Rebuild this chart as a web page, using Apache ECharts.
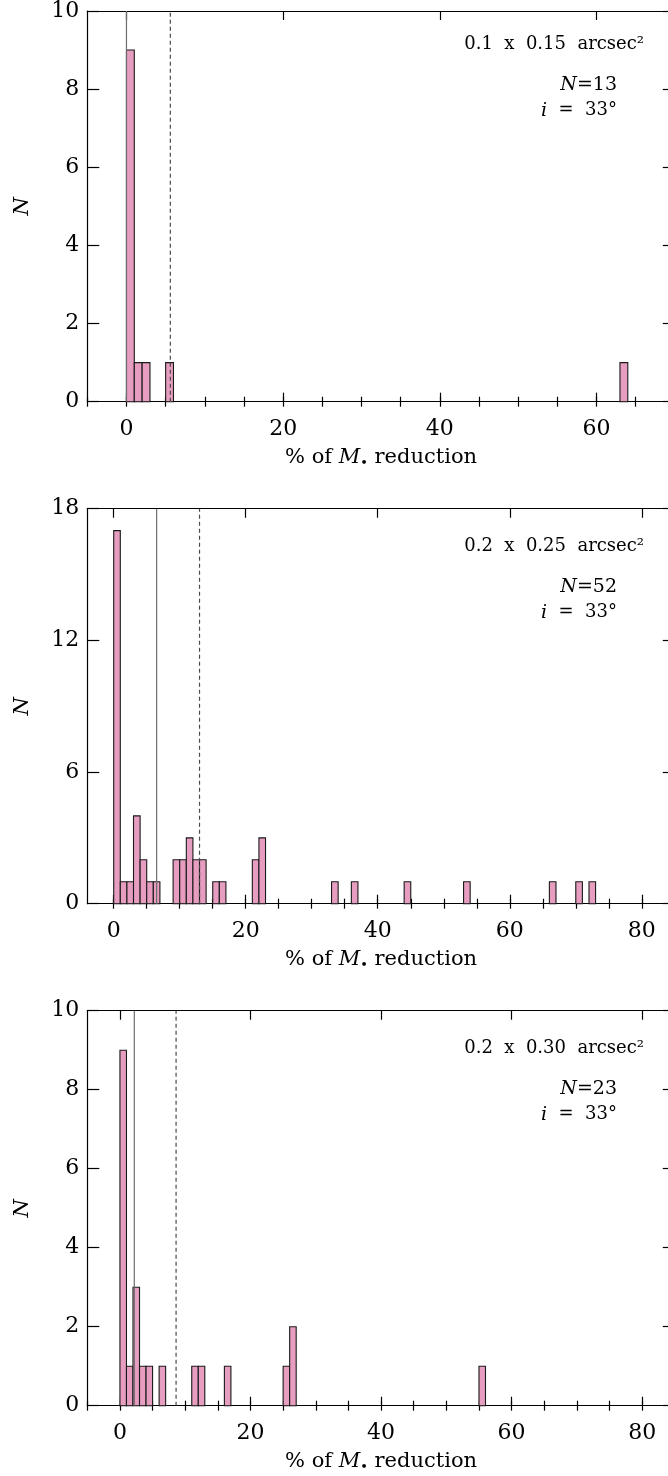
<!DOCTYPE html>
<html>
<head>
<meta charset="utf-8">
<script src="https://cdn.jsdelivr.net/npm/echarts@6/dist/echarts.min.js"></script>
<style>
  html, body { margin: 0; padding: 0; background: #fff; overflow: hidden; }
  #chart { width: 680px; height: 1476px; }
</style>
</head>
<body>
<div id="chart"></div>
<script>
// ---------- data ----------
const binWidth = 1;

const p1BinStarts = [0, 1, 2, 5, 63];
const p1Counts    = [9, 1, 1, 1, 1];

const p2BinStarts = [0, 1, 2, 3, 4, 5, 6, 9, 10, 11, 12, 13, 15, 16, 21, 22, 33, 36, 44, 53, 66, 70, 72];
const p2Counts    = [17, 1, 1, 4, 2, 1, 1, 2, 2, 3, 2, 2, 1, 1, 2, 3, 1, 1, 1, 1, 1, 1, 1];

const p3BinStarts = [0, 1, 2, 3, 4, 6, 11, 12, 16, 25, 26, 55];
const p3Counts    = [9, 1, 3, 1, 1, 1, 1, 1, 1, 1, 2, 1];

const solidLineX  = [0, 6.5, 2.2];
const dashedLineX = [5.6, 13.0, 8.6];

const xRanges = [[-5, 70], [-4, 85], [-5, 85]];
const yRanges = [[0, 10], [0, 18], [0, 10]];
const yIntervals = [2, 6, 2];

const xMajorLabels = [[0, 20, 40, 60], [0, 20, 40, 60, 80], [0, 20, 40, 60, 80]];

const apertureLabels = ['0.1  x  0.15  arcsec²', '0.2  x  0.25  arcsec²', '0.2  x  0.30  arcsec²'];
const sampleSizes = [13, 52, 23];
const inclinationLabel = '  =  33°';

// ---------- layout ----------
const FONT = 'DejaVu Serif';
const gridLeft = 87.3, gridWidth = 587.5, gridHeight = 395;
const gridTops = [6.7, 508.7, 1010.7];
const binStartsAll = [p1BinStarts, p2BinStarts, p3BinStarts];
const countsAll = [p1Counts, p2Counts, p3Counts];

function minorValues(range) {
  const out = [];
  const start = Math.ceil(range[0] / 5) * 5;
  for (let v = start; v <= range[1]; v += 5) out.push(v);
  return out;
}

const grid = [], xAxis = [], yAxis = [], series = [], graphic = [];

for (let i = 0; i < 3; i++) {
  grid.push({ left: gridLeft, top: gridTops[i], width: gridWidth, height: gridHeight, containLabel: false });
  const xr = xRanges[i];
  const base = i * 4;
  const lineStyle = { color: '#000', width: 1.2 };
  xAxis.push({
    type: 'value', gridIndex: i, position: 'bottom', min: xr[0], max: xr[1],
    axisLine: { show: true, onZero: false, lineStyle },
    axisTick: { show: true, inside: true, length: 9, lineStyle: { color: '#000', width: 1.2 }, customValues: xMajorLabels[i] },
    axisLabel: { show: true, customValues: xMajorLabels[i], margin: 17, color: '#000', fontFamily: FONT, fontSize: 22 },
    splitLine: { show: false },
    name: '{a|% of }{m|M}{s|•}{a| reduction}',
    nameLocation: 'middle', nameGap: 43,
    nameTextStyle: {
      rich: {
        a: { fontFamily: FONT, fontSize: 21, color: '#000' },
        m: { fontFamily: FONT, fontSize: 21, fontStyle: 'italic', color: '#000' },
        s: { fontFamily: FONT, fontSize: 13, color: '#000', padding: [12, 0, 0, 0] }
      }
    }
  });
  xAxis.push({
    type: 'value', gridIndex: i, position: 'bottom', min: xr[0], max: xr[1],
    axisLine: { show: false },
    axisTick: { show: true, inside: true, length: 5, lineStyle: { color: '#000', width: 1.2 }, customValues: minorValues(xr) },
    axisLabel: { show: false }, splitLine: { show: false }
  });
  xAxis.push({
    type: 'value', gridIndex: i, position: 'top', min: xr[0], max: xr[1],
    axisLine: { show: true, onZero: false, lineStyle },
    axisTick: { show: true, inside: true, length: 9, lineStyle: { color: '#000', width: 1.2 }, customValues: xMajorLabels[i] },
    axisLabel: { show: false }, splitLine: { show: false }
  });
  xAxis.push({
    type: 'value', gridIndex: i, position: 'top', min: xr[0], max: xr[1],
    axisLine: { show: false },
    axisTick: { show: true, inside: true, length: 5, lineStyle: { color: '#000', width: 1.2 }, customValues: minorValues(xr) },
    axisLabel: { show: false }, splitLine: { show: false }
  });

  const yr = yRanges[i];
  yAxis.push({
    type: 'value', gridIndex: i, position: 'left', min: yr[0], max: yr[1], interval: yIntervals[i],
    axisLine: { show: true, onZero: false, lineStyle },
    axisTick: { show: true, inside: true, length: 12, lineStyle: { color: '#000', width: 1.2 } },
    axisLabel: { show: true, margin: 8, color: '#000', fontFamily: FONT, fontSize: 22 },
    splitLine: { show: false },
    name: 'N', nameLocation: 'middle', nameGap: 54, nameRotate: 90,
    nameTextStyle: { fontFamily: FONT, fontSize: 21, fontStyle: 'italic', color: '#000' }
  });
  yAxis.push({
    type: 'value', gridIndex: i, position: 'right', min: yr[0], max: yr[1], interval: yIntervals[i],
    axisLine: { show: true, onZero: false, lineStyle },
    axisTick: { show: true, inside: true, length: 12, lineStyle: { color: '#000', width: 1.2 } },
    axisLabel: { show: false }, splitLine: { show: false }
  });

  const data = binStartsAll[i].map((s, k) => [s, countsAll[i][k]]);
  series.push({
    type: 'custom', xAxisIndex: base, yAxisIndex: i * 2, data, z: 2,
    renderItem: function (params, api) {
      const x0 = api.value(0), c = api.value(1);
      const p0 = api.coord([x0, 0]);
      const p1 = api.coord([x0 + binWidth, c]);
      return {
        type: 'rect',
        shape: { x: p0[0], y: p1[1], width: p1[0] - p0[0], height: p0[1] - p1[1] },
        style: { fill: '#E69DC0', stroke: '#1a1a1a', lineWidth: 1.1 }
      };
    }
  });
  series.push({
    type: 'line', xAxisIndex: base, yAxisIndex: i * 2, z: 3, symbol: 'none', silent: true,
    data: [[solidLineX[i], yr[0]], [solidLineX[i], yr[1]]],
    lineStyle: { color: '#6e6e6e', width: 1.2, type: 'solid' }
  });
  series.push({
    type: 'line', xAxisIndex: base, yAxisIndex: i * 2, z: 3, symbol: 'none', silent: true,
    data: [[dashedLineX[i], yr[0]], [dashedLineX[i], yr[1]]],
    lineStyle: { color: '#4a4a4a', width: 1.2, type: [4, 3] }
  });

  const top = gridTops[i];
  graphic.push({
    type: 'text', x: 644, y: top + 38,
    style: { text: apertureLabels[i], fontFamily: FONT, fontSize: 18, fill: '#000', align: 'right', verticalAlign: 'middle' }
  });
  graphic.push({
    type: 'text', x: 617, y: top + 78,
    style: {
      text: '{it|N}{n|=' + sampleSizes[i] + '}', align: 'right', verticalAlign: 'middle',
      rich: {
        it: { fontFamily: FONT, fontSize: 19, fontStyle: 'italic', fill: '#000' },
        n: { fontFamily: FONT, fontSize: 19, fill: '#000' }
      }
    }
  });
  graphic.push({
    type: 'text', x: 617, y: top + 104,
    style: {
      text: '{it|i}{n|' + inclinationLabel + '}', align: 'right', verticalAlign: 'middle',
      rich: {
        it: { fontFamily: FONT, fontSize: 19, fontStyle: 'italic', fill: '#000' },
        n: { fontFamily: FONT, fontSize: 18, fill: '#000' }
      }
    }
  });
}

const chart = echarts.init(document.getElementById('chart'), null, { renderer: 'canvas' });
chart.setOption({
  animation: false,
  backgroundColor: '#fff',
  grid, xAxis, yAxis, series, graphic
});
</script>
</body>
</html>
